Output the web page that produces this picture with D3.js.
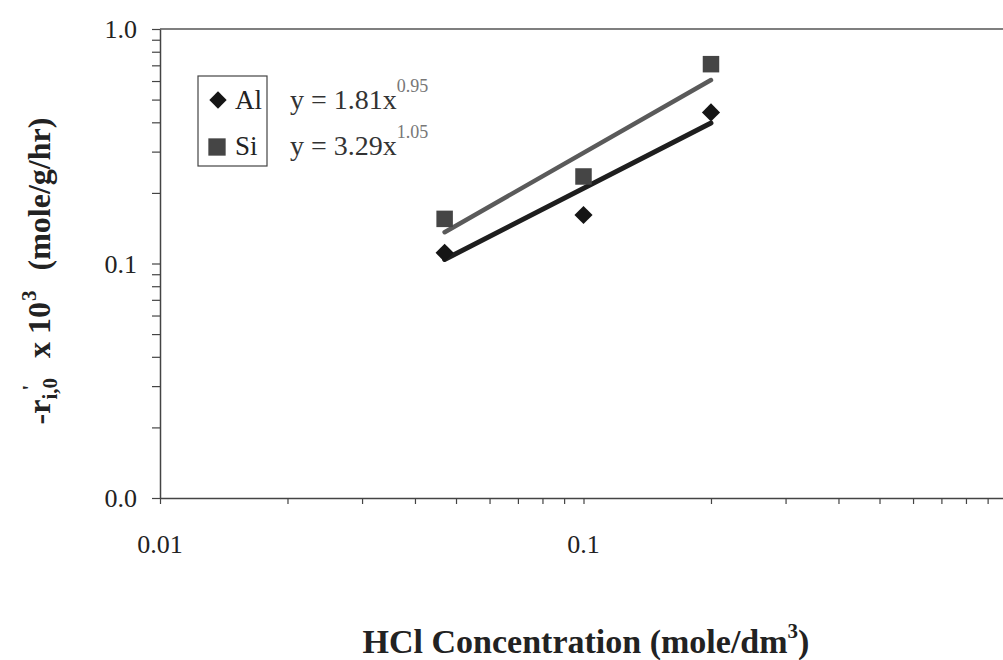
<!DOCTYPE html>
<html><head><meta charset="utf-8">
<script src="https://cdn.jsdelivr.net/npm/d3@7"></script>
<style>
html,body{margin:0;padding:0;background:#fff;}
svg{display:block;font-family:"Liberation Serif","Times New Roman",serif;}
</style></head>
<body>
<svg id="chart" width="1003" height="660"></svg>
<script>
// ---- data ----
const concentrations = [0.047, 0.1, 0.2];          // HCl concentration (mole/dm3)
const alRates = [0.111, 0.161, 0.441];              // Al  -r' x 10^3
const siRates = [0.155, 0.235, 0.708];              // Si  -r' x 10^3
const trendX = [0.047, 0.2];                        // trend line span
const alTrend = [0.104, 0.397];
const siTrend = [0.136, 0.606];
const seriesNames = ["Al", "Si"];
const equations = [["y = 1.81x", "0.95"], ["y = 3.29x", "1.05"]];
const xTickLabels = [[0.01, "0.01"], [0.1, "0.1"]];
const yTickLabels = [[1, "1.0"], [0.1, "0.1"], [0.01, "0.0"]];

const svg = d3.select("#chart");
const x = d3.scaleLog().domain([0.01, 1]).range([160, 1007]);
const y = d3.scaleLog().domain([0.01, 1]).range([498, 29]);

const minorTicks = [];
[0.01, 0.1].forEach(d => { for (let k = 1; k <= 9; k++) minorTicks.push(+(d * k).toPrecision(3)); });
minorTicks.push(1);

// top frame line
svg.append("line").attr("x1", x(0.01)).attr("x2", 1003).attr("y1", y(1)).attr("y2", y(1))
  .attr("stroke", "#555").attr("stroke-width", 1.5);

// x axis
const gx = svg.append("g").attr("transform", `translate(0,${y(0.01)})`)
  .call(d3.axisBottom(x).tickValues(minorTicks).tickFormat("").tickSize(6).tickSizeOuter(0));
gx.select(".domain").attr("stroke", "#444").attr("stroke-width", 1.5);
gx.selectAll(".tick line").attr("stroke", "#444").attr("stroke-width", 1.2);

// y axis
const gy = svg.append("g").attr("transform", `translate(${x(0.01)},0)`)
  .call(d3.axisLeft(y).tickValues(minorTicks).tickFormat("").tickSize(8).tickSizeOuter(0));
gy.select(".domain").attr("stroke", "#444").attr("stroke-width", 1.5);
gy.selectAll(".tick line").attr("stroke", "#444").attr("stroke-width", 1.2);

// tick labels
svg.selectAll(".xl").data(xTickLabels).enter().append("text")
  .attr("x", d => x(d[0])).attr("y", 553).attr("text-anchor", "middle")
  .attr("font-size", 26).attr("fill", "#222").text(d => d[1]);
svg.selectAll(".yl").data(yTickLabels).enter().append("text")
  .attr("x", 137).attr("y", d => y(d[0]) + 9).attr("text-anchor", "end")
  .attr("font-size", 26).attr("fill", "#222").text(d => d[1]);

// trend lines
const line = d3.line().x(d => x(d[0])).y(d => y(d[1]));
svg.append("path").datum(trendX.map((v, i) => [v, siTrend[i]])).attr("d", line)
  .attr("stroke", "#5a5a5a").attr("stroke-width", 4.5).attr("fill", "none").attr("stroke-linecap", "round");
svg.append("path").datum(trendX.map((v, i) => [v, alTrend[i]])).attr("d", line)
  .attr("stroke", "#1e1e1e").attr("stroke-width", 5).attr("fill", "none").attr("stroke-linecap", "round");

// markers
const sq = d3.symbol().type(d3.symbolSquare).size(272);
const dia = d3.symbol().type(d3.symbolSquare).size(165);
svg.selectAll(".si").data(concentrations.map((c, i) => [c, siRates[i]])).enter().append("path")
  .attr("d", sq).attr("transform", d => `translate(${x(d[0])},${y(d[1])})`).attr("fill", "#454545");
svg.selectAll(".al").data(concentrations.map((c, i) => [c, alRates[i]])).enter().append("path")
  .attr("d", dia).attr("transform", d => `translate(${x(d[0])},${y(d[1])}) rotate(45)`).attr("fill", "#151515");

// legend
svg.append("rect").attr("x", 198).attr("y", 76).attr("width", 69).attr("height", 90)
  .attr("fill", "#fff").attr("stroke", "#444").attr("stroke-width", 1.2);
const legY = [100, 147];
svg.append("path").attr("d", d3.symbol().type(d3.symbolSquare).size(150))
  .attr("transform", `translate(218,${legY[0]}) rotate(45)`).attr("fill", "#151515");
svg.append("path").attr("d", d3.symbol().type(d3.symbolSquare).size(300))
  .attr("transform", `translate(217,${legY[1]})`).attr("fill", "#454545");
const legBase = [109, 155];
seriesNames.forEach((n, i) => {
  svg.append("text").attr("x", 235).attr("y", legBase[i]).attr("font-size", 27).attr("fill", "#222").text(n);
  const t = svg.append("text").attr("x", 290).attr("y", legBase[i]).attr("font-size", 28).attr("fill", "#333");
  t.append("tspan").text(equations[i][0]);
  t.append("tspan").attr("dy", -17).attr("font-size", 18).attr("fill", "#777").text(equations[i][1]);
});

// y axis title (rotated, built piece by piece)
const yg = svg.append("g").attr("font-weight", "bold").attr("fill", "#222");
const parts = [
  {t: "-r", fs: 32, dy: 0, gap: 0},
  {t: "i,0", fs: 21, dy: 7, gap: 0, prime: true},
  {t: "x 10", fs: 32, dy: 0, gap: 20},
  {t: "3", fs: 21, dy: -14, gap: 1},
  {t: "(mole/g/hr)", fs: 32, dy: 0, gap: 20}
];
let cx = 0;
parts.forEach(p => {
  cx += p.gap;
  const el = yg.append("text").attr("x", cx).attr("y", p.dy).attr("font-size", p.fs).text(p.t);
  const w = el.node().getComputedTextLength();
  if (p.prime) {
    yg.append("text").attr("x", cx + w / 2 - 2).attr("y", -13).attr("font-size", 22).text("'");
  }
  cx += w;
});
yg.attr("transform", `translate(50,${271 + cx / 2}) rotate(-90)`);

// x axis title
const xt = svg.append("text").attr("x", 586).attr("y", 653).attr("text-anchor", "middle")
  .attr("font-size", 34).attr("font-weight", "bold").attr("fill", "#222");
xt.append("tspan").text("HCl Concentration (mole/dm");
xt.append("tspan").attr("font-size", 21).attr("dy", -15).text("3");
xt.append("tspan").attr("dy", 15).text(")");
</script>
</body></html>
